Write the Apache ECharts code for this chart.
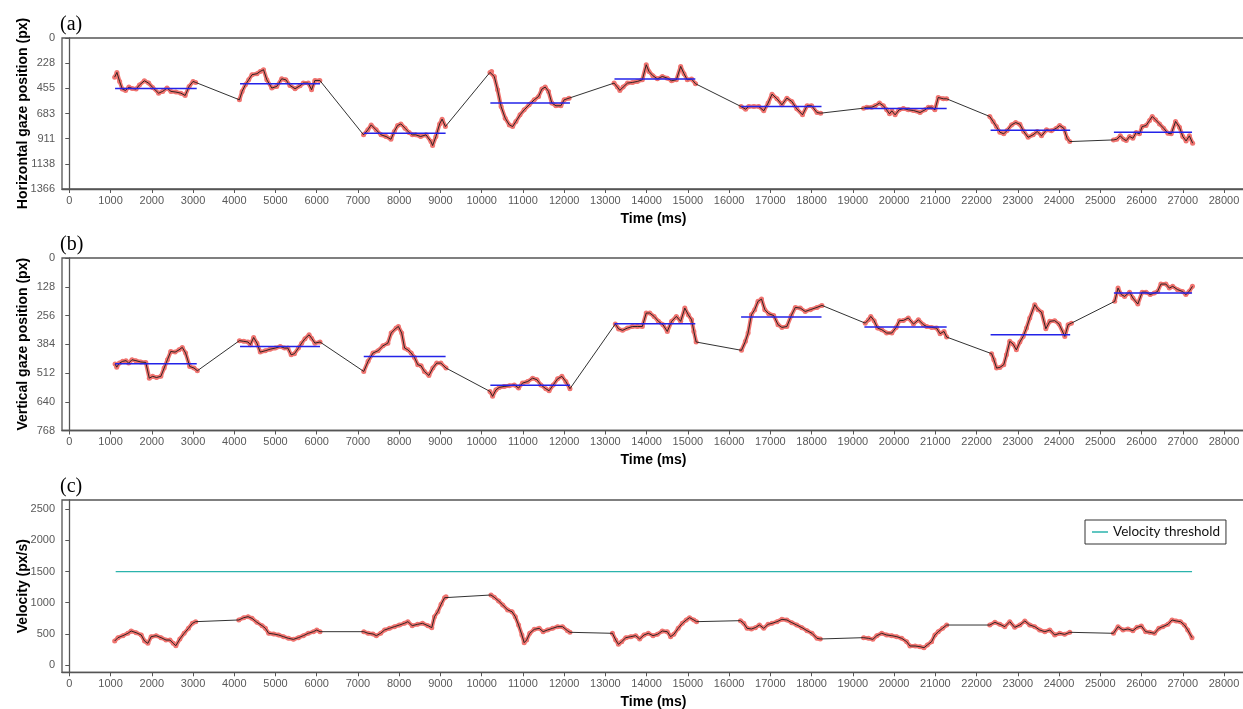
<!DOCTYPE html>
<html>
<head>
<meta charset="utf-8">
<script src="https://cdn.jsdelivr.net/npm/echarts@6/dist/echarts.min.js"></script>
<style>
html,body{margin:0;padding:0;background:#fff;}
#chart{width:1243px;height:709px;}
</style>
</head>
<body>
<div id="chart"></div>
<script>
// Tick labels
const timeTicks = [0,1000,2000,3000,4000,5000,6000,7000,8000,9000,10000,11000,12000,13000,14000,
  15000,16000,17000,18000,19000,20000,21000,22000,23000,24000,25000,26000,27000,28000];
const hPosTicks = [0,228,455,683,911,1138,1366];
const vPosTicks = [0,128,256,384,512,640,768];
const velTicks = [0,500,1000,1500,2000,2500];

// Fixation windows (ms) and their mean positions (px)
const fixStart = [1110,4140,7140,10210,13220,16290,19280,22340,25330];
const fixEnd   = [3090,6080,9125,12140,15180,18240,21275,24270,27225];
const hPosMean = [456,414,861,589,372,620,638,834,852];
const vPosMean = [471,394,438,567,293,263,307,342,156];

// Velocity threshold (px/s) and the time span it is drawn over
const velThreshold = 1500;
const thresholdSpan = [1125,27225];

// Horizontal gaze samples, one list per fixation
const hTime = [
  [1100,1155,1220,1285,1365,1445,1525,1620,1700,1820,1925,2020,2165,2265,2370,2465,2585,2705,2810,2905,3000,3065],
  [4125,4190,4270,4350,4430,4550,4630,4710,4790,4910,5030,5150,5250,5350,5475,5595,5675,5795,5875,5955,6075],
  [7135,7240,7320,7440,7560,7680,7800,7880,7960,8040,8140,8240,8320,8400,8520,8650,8770,8810,8890,8980,9040,9120],
  [10200,10240,10305,10385,10470,10570,10670,10750,10830,10930,11030,11150,11275,11380,11460,11540,11620,11700,11800,11920,12000,12120],
  [13210,13290,13350,13430,13535,13655,13775,13895,13990,14055,14150,14260,14380,14500,14605,14720,14825,14905,14985,15090,15185],
  [16290,16400,16475,16600,16720,16840,16945,17040,17160,17280,17400,17520,17640,17780,17890,18000,18130,18220],
  [19260,19340,19460,19540,19645,19740,19820,19890,19945,20025,20120,20225,20345,20470,20630,20750,20830,20910,20990,21070,21195,21275],
  [22320,22400,22480,22565,22660,22740,22845,22950,23050,23145,23250,23370,23470,23575,23695,23815,23935,24015,24115,24195,24260],
  [25320,25400,25485,25565,25630,25710,25790,25870,25950,26015,26110,26195,26260,26340,26435,26535,26640,26720,26825,26920,27000,27080,27160,27240]
];
const hPos = [
  [354,311,393,462,474,444,456,462,426,387,408,447,499,483,453,483,489,499,520,438,393,402],
  [559,483,423,378,332,323,302,287,378,453,438,369,378,429,459,432,408,408,468,384,384],
  [876,831,786,831,876,891,916,846,792,777,816,855,876,876,891,876,937,973,891,777,734,801],
  [311,302,348,468,620,725,786,801,755,695,650,604,559,529,462,444,483,589,613,613,559,544],
  [408,444,474,444,408,402,393,378,242,302,341,369,348,363,387,378,257,323,378,372,414],
  [620,644,620,620,620,659,589,508,550,604,544,574,641,695,613,613,675,680],
  [635,626,626,613,589,613,650,686,659,695,650,638,650,656,674,650,626,626,650,538,550,550],
  [710,755,801,852,867,837,786,765,780,846,898,876,846,885,831,840,816,792,816,907,937],
  [922,916,885,916,928,891,907,855,867,801,792,746,710,740,777,816,861,867,755,807,891,931,885,952]
];

// Vertical gaze samples, one list per fixation
const vTime = [
  [1110,1150,1215,1295,1375,1440,1520,1615,1735,1855,1940,2020,2115,2220,2300,2380,2460,2565,2660,2740,2820,2920,3025,3105],
  [4125,4230,4335,4390,4470,4550,4630,4750,4870,4995,5115,5220,5300,5380,5460,5555,5635,5715,5815,5875,5955,6080],
  [7140,7245,7365,7485,7605,7725,7805,7925,7980,8060,8130,8210,8290,8370,8450,8530,8610,8720,8815,8910,9010,9135],
  [10200,10265,10345,10425,10545,10670,10790,10895,10990,11115,11235,11340,11435,11555,11635,11735,11840,11945,12040,12140],
  [13240,13320,13415,13535,13655,13775,13895,13990,14075,14180,14285,14395,14500,14605,14720,14825,14925,15010,15090,15145,15200],
  [16300,16395,16460,16540,16620,16700,16785,16865,16960,17080,17185,17280,17400,17505,17605,17725,17845,17970,18130,18250],
  [19300,19380,19435,19515,19600,19700,19820,19945,20050,20130,20225,20345,20470,20590,20710,20790,20910,21030,21115,21210,21275],
  [22365,22420,22485,22565,22660,22725,22805,22885,22965,23050,23130,23210,23290,23410,23490,23575,23680,23775,23895,24000,24140,24220,24300],
  [25350,25430,25510,25590,25710,25790,25910,26015,26110,26210,26310,26390,26470,26590,26675,26755,26875,26995,27075,27155,27235]
];
const vPos = [
  [472,486,468,460,457,468,453,457,463,465,535,527,532,527,490,453,416,419,409,398,423,483,490,502],
  [368,371,374,386,354,379,419,413,406,401,394,401,401,431,426,401,379,359,342,357,379,374],
  [505,460,423,413,391,379,334,312,305,334,401,409,423,443,475,480,505,523,490,468,468,490],
  [594,616,587,576,572,569,565,579,557,550,535,542,565,582,591,565,538,527,550,582],
  [294,316,322,312,305,305,305,245,245,260,282,297,327,282,260,282,223,253,275,327,374],
  [411,371,334,253,230,193,183,230,248,256,297,309,305,257,220,223,238,230,220,211],
  [290,275,260,279,312,319,334,334,309,279,278,267,294,275,297,305,309,312,337,327,352],
  [426,453,490,487,475,431,371,383,409,374,349,312,267,208,230,241,315,282,279,294,349,297,290],
  [193,134,163,171,152,178,205,152,152,163,156,149,116,116,134,126,141,149,163,149,126]
];

// Gaze velocity samples, one list per fixation
const velTime = [
  [1100,1180,1300,1420,1500,1620,1745,1825,1905,1985,2105,2225,2345,2440,2520,2585,2680,2785,2890,2985,3065],
  [4110,4230,4335,4430,4550,4675,4755,4835,4955,5075,5195,5315,5435,5555,5675,5795,5920,6000,6080],
  [7140,7245,7365,7445,7550,7645,7765,7885,8005,8125,8210,8315,8445,8565,8695,8790,8855,8935,9015,9100,9135],
  [10225,10305,10410,10510,10630,10735,10815,10895,10975,11030,11090,11165,11275,11395,11490,11595,11720,11840,11960,12080,12140],
  [13170,13250,13315,13395,13495,13615,13735,13830,13935,14040,14155,14260,14380,14500,14580,14660,14765,14865,14960,15040,15145,15210],
  [16275,16355,16435,16540,16635,16735,16840,16945,17040,17160,17280,17400,17520,17640,17765,17890,18010,18130,18210],
  [19260,19380,19485,19580,19700,19820,19945,20065,20185,20305,20385,20510,20630,20725,20805,20910,20990,21070,21175,21275],
  [22320,22445,22565,22685,22805,22925,23050,23170,23290,23410,23530,23655,23775,23895,24015,24135,24260],
  [25320,25430,25550,25670,25790,25890,25995,26100,26195,26315,26420,26515,26640,26740,26840,26945,27040,27120,27225]
];
const velocity = [
  [385,439,471,509,546,519,482,385,348,455,471,439,401,401,348,310,418,509,589,669,696],
  [723,760,776,749,685,632,589,509,498,482,455,428,412,439,471,509,535,562,535],
  [535,509,498,471,509,562,589,616,642,669,696,632,653,669,632,600,776,856,974,1081,1097],
  [1124,1087,1028,964,883,856,776,642,482,359,401,509,573,589,535,562,589,616,616,551,525],
  [509,401,332,375,439,455,471,418,482,509,471,492,546,535,455,492,589,669,723,760,723,696],
  [712,669,589,578,600,642,589,653,669,696,733,723,680,642,600,551,509,428,418],
  [439,428,412,471,509,482,471,455,428,375,305,305,294,278,321,375,482,535,589,642],
  [642,685,653,616,696,605,642,707,642,616,562,535,562,482,509,492,525],
  [509,616,562,578,551,605,626,535,525,509,589,616,653,723,707,696,642,562,439]
];

const RED = '#f07470';
const BLUE = '#2323e8';
const TEAL = '#2bb3ac';
const AXIS = '#555555';
const LABEL = '#595959';
const FONT = '"Liberation Sans", Arial, sans-serif';

// Shared time axis: 0 ms sits a few px inside the panel edge
const X_MIN = -177, X_MAX = 28509;

function samples(times, values) {
  return times.map((ts, i) => ts.map((t, j) => [t, values[i][j]]));
}

function traceSeries(idx, groups) {
  const out = [];
  const all = [];
  groups.forEach(pts => {
    out.push({
      type: 'line', xAxisIndex: idx, yAxisIndex: idx, data: pts,
      symbol: 'circle', symbolSize: 5, showSymbol: true, showAllSymbol: true,
      lineStyle: { color: RED, width: 4 }, itemStyle: { color: RED },
      z: 2, silent: true, animation: false
    });
    all.push(...pts);
  });
  out.push({
    type: 'line', xAxisIndex: idx, yAxisIndex: idx, data: all, symbol: 'none',
    lineStyle: { color: '#1a1a1a', width: 0.9 }, z: 3, silent: true, animation: false
  });
  return out;
}

function meanSeries(idx, means) {
  return means.map((m, i) => ({
    type: 'line', xAxisIndex: idx, yAxisIndex: idx,
    data: [[fixStart[i], m], [fixEnd[i], m]], symbol: 'none',
    lineStyle: { color: BLUE, width: 1.5 }, z: 4, silent: true, animation: false
  }));
}

const plain = v => String(v);

function xAxis(idx) {
  return {
    type: 'value', gridIndex: idx, min: X_MIN, max: X_MAX,
    axisLine: { show: true, onZero: false, lineStyle: { color: AXIS, width: 1.3 } },
    axisTick: { show: true, customValues: timeTicks, length: 4, lineStyle: { color: AXIS } },
    axisLabel: { customValues: timeTicks, formatter: plain, color: LABEL, fontSize: 11, fontFamily: FONT, margin: 6 },
    splitLine: { show: false },
    name: 'Time (ms)', nameLocation: 'middle', nameGap: 23, nameMoveOverlap: false,
    nameTextStyle: { color: '#000', fontSize: 14, fontWeight: 'bold', fontFamily: FONT }
  };
}

function yAxis(idx, name, ticks, min, max, inverse) {
  return {
    type: 'value', gridIndex: idx, min: min, max: max, inverse: inverse,
    axisLine: { show: true, lineStyle: { color: AXIS, width: 1.3 } },
    axisTick: { show: true, customValues: ticks, length: 4, lineStyle: { color: AXIS } },
    axisLabel: { customValues: ticks, formatter: plain, color: LABEL, fontSize: 11, fontFamily: FONT, margin: 7 },
    splitLine: { show: false },
    name: name, nameLocation: 'middle', nameGap: 32, nameMoveOverlap: false,
    nameTextStyle: { color: '#000', fontSize: 14, fontWeight: 'bold', fontFamily: FONT }
  };
}

const gridBase = {
  left: 62, width: 1183, show: true, borderColor: AXIS, borderWidth: 1.3,
  backgroundColor: 'transparent', containLabel: false, outerBoundsMode: 'none'
};
const panelLabel = (text, top) => ({
  text: text, left: 60, top: top, padding: 0,
  textStyle: { fontFamily: '"Liberation Serif", "Times New Roman", serif', fontSize: 20, fontWeight: 'normal', color: '#000' }
});

const series = [
  ...traceSeries(0, samples(hTime, hPos)),
  ...meanSeries(0, hPosMean),
  ...traceSeries(1, samples(vTime, vPos)),
  ...meanSeries(1, vPosMean),
  ...traceSeries(2, samples(velTime, velocity)),
  {
    name: 'Velocity threshold', type: 'line', xAxisIndex: 2, yAxisIndex: 2,
    data: thresholdSpan.map(t => [t, velThreshold]), symbol: 'none',
    lineStyle: { color: TEAL, width: 1.2 }, itemStyle: { color: TEAL },
    z: 4, silent: true, animation: false
  }
];

const chart = echarts.init(document.getElementById('chart'), null, { renderer: 'canvas' });
chart.setOption({
  animation: false,
  backgroundColor: '#fff',
  title: [panelLabel('(a)', 15), panelLabel('(b)', 235), panelLabel('(c)', 477)],
  grid: [
    Object.assign({ top: 38, height: 151 }, gridBase),
    Object.assign({ top: 258, height: 172.5 }, gridBase),
    Object.assign({ top: 500, height: 172.3 }, gridBase)
  ],
  xAxis: [xAxis(0), xAxis(1), xAxis(2)],
  yAxis: [
    yAxis(0, 'Horizontal gaze position (px)', hPosTicks, 0, 1366, true),
    yAxis(1, 'Vertical gaze position (px)', vPosTicks, 0, 768, true),
    yAxis(2, 'Velocity (px/s)', velTicks, -117, 2649, false)
  ],
  legend: {
    data: [{ name: 'Velocity threshold', icon: 'rect' }],
    left: 1085, top: 520, itemWidth: 16, itemHeight: 1.5, itemGap: 6,
    padding: [5, 6, 5, 7], borderColor: '#333', borderWidth: 1, borderRadius: 0,
    backgroundColor: '#fff',
    textStyle: { fontFamily: 'Lato, "Open Sans", sans-serif', fontSize: 13.5, color: '#111' }
  },
  series: series
});
</script>
</body>
</html>
